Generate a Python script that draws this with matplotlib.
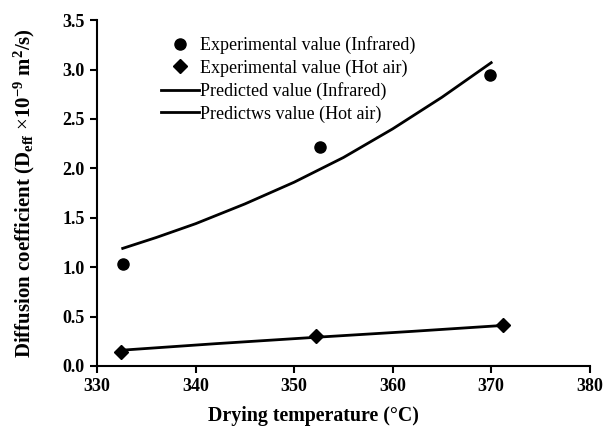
import matplotlib
matplotlib.use("Agg")
import matplotlib.pyplot as plt

plt.rcParams['font.family'] = ['Liberation Serif', 'DejaVu Serif']
plt.rcParams['mathtext.fontset'] = 'custom'
plt.rcParams['mathtext.rm'] = 'Liberation Serif'
plt.rcParams['mathtext.bf'] = 'Liberation Serif:bold'
plt.rcParams['mathtext.it'] = 'Liberation Serif:italic'

# experimental points
temp_ir = [332.6, 352.6, 369.9]
deff_ir = [1.03, 2.22, 2.95]
temp_ha = [332.4, 352.2, 371.2]
deff_ha = [0.145, 0.30, 0.415]

# predicted curves
pred_temp_ir = [332.6, 336, 340, 345, 350, 355, 360, 365, 370]
pred_deff_ir = [1.19, 1.30, 1.44, 1.64, 1.86, 2.11, 2.40, 2.72, 3.07]
pred_temp_ha = [332.6, 342, 352.2, 362, 371.2]
pred_deff_ha = [0.16, 0.225, 0.29, 0.35, 0.41]

xticks = [330, 340, 350, 360, 370, 380]
yticks = [0.0, 0.5, 1.0, 1.5, 2.0, 2.5, 3.0, 3.5]

fig = plt.figure(figsize=(6.03, 4.30), dpi=100)
ax = fig.add_axes([0.161, 0.149, 0.817, 0.804])

ax.plot(temp_ir, deff_ir, 'o', color='black', markersize=8, label='Experimental value (Infrared)')
ax.plot(temp_ha, deff_ha, 'D', color='black', markersize=7, label='Experimental value (Hot air)')
ax.plot(pred_temp_ir, pred_deff_ir, '-', color='black', lw=2, label='Predicted value (Infrared)')
ax.plot(pred_temp_ha, pred_deff_ha, '-', color='black', lw=2, label='Predictws value (Hot air)')

ax.set_xlim(330, 380)
ax.set_ylim(0, 3.5)
ax.set_xticks(xticks)
ax.set_yticks(yticks)
ax.set_yticklabels(['%.1f' % v for v in yticks])
for lbl in ax.get_xticklabels() + ax.get_yticklabels():
    lbl.set_fontweight('bold')
    lbl.set_fontsize(13)

ax.spines['top'].set_visible(False)
ax.spines['right'].set_visible(False)
ax.spines['left'].set_linewidth(1.5)
ax.spines['bottom'].set_linewidth(1.5)
ax.tick_params(direction='out', length=5, width=1.5, pad=4)

ax.set_xlabel('Drying temperature (°C)', fontsize=14.3, fontweight='bold')
ax.xaxis.set_label_coords(0.44, -0.115)
ax.set_ylabel(r'Diffusion coefficient (D$_{\mathbf{eff}}$ $\times$10$^{\mathbf{-9}}$ m$^{\mathbf{2}}$/s)',
              fontsize=15, fontweight='bold', labelpad=18)

ax.legend(loc='upper left', bbox_to_anchor=(0.115, 0.975), frameon=False, fontsize=13,
          handlelength=2.1, handletextpad=0.05, labelspacing=0.3, borderaxespad=0)

fig.savefig('out.png', dpi=100)
